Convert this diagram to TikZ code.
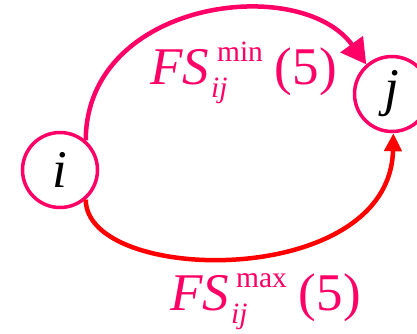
\documentclass[tikz,border=0pt]{standalone}
\usepackage{fontspec}
\setmainfont{Liberation Serif}
\usetikzlibrary{arrows.meta}
\definecolor{mag}{RGB}{255,0,102}
\definecolor{rd}{RGB}{255,0,0}
\newcommand\sml{\fontsize{29.5}{30}\selectfont}
\newcommand\fslabel[2]{\textit{FS}\rlap{\hspace{2pt}\raisebox{-13pt}{\sml\itshape ij}}\hspace{#2}\raisebox{23pt}{\sml #1}\hspace{12pt}(5)}
\tikzset{
  vtx/.style={circle, draw=mag, line width=3.5pt, minimum size=75pt, inner sep=0pt, font=\fontsize{53}{53}\selectfont\itshape},
  lbl/.style={anchor=base west, inner sep=0pt, text=mag, font=\fontsize{53}{60}\selectfont},
  edgemin/.style={draw=mag, line width=4.5pt, -{Triangle[length=25pt,width=27pt]}},
  edgemax/.style={draw=rd, line width=4.5pt, -{Triangle[length=18pt,width=17pt]}}
}
\begin{document}
\begin{tikzpicture}[x=1pt,y=-1pt]
\useasboundingbox (0,0) rectangle (417,333);
\node[vtx] (i) at (60,170) {i};
\node[vtx] (j) at (392,94) {j};
\draw[edgemin] (i.49) .. controls (86,0) and (300,-27) .. (j.131);
\draw[edgemax] (i.-49) .. controls (86,285) and (390,290) .. (j.-88);
\node[lbl] (lmin) at (150,84) {\fslabel{min}{8pt}};
\node[lbl] (lmax) at (170,310) {\fslabel{max}{7pt}};
\end{tikzpicture}
\end{document}
